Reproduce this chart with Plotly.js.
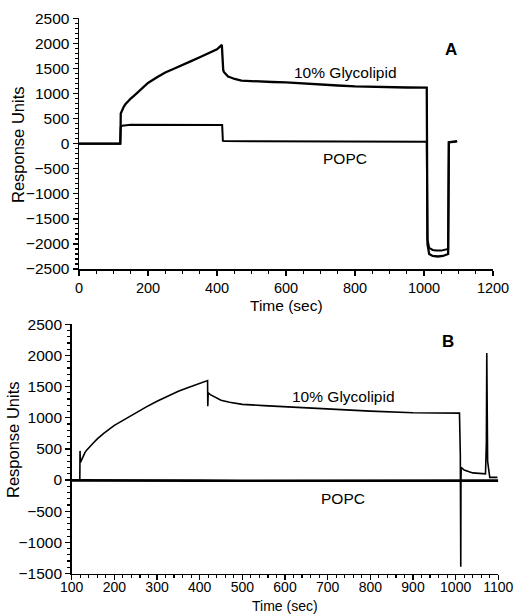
<!DOCTYPE html>
<html>
<head>
<meta charset="utf-8">
<script src="https://cdn.plot.ly/plotly-3.0.1.min.js"></script>
<style>html,body{margin:0;padding:0;background:#fff;}#chart{width:519px;height:614px;}</style>
</head>
<body>
<div id="chart"></div>
<script>
// Panel A
const tA_gly = [0, 118, 120, 121, 123, 126, 130, 135, 140, 150, 160, 175, 200, 225, 250, 275, 300, 325, 350, 375, 400, 414, 416, 418, 420, 425, 432, 440, 451, 471, 500, 525, 560, 600, 650, 700, 750, 800, 850, 900, 950, 1008, 1010, 1015, 1025, 1040, 1055, 1070, 1072, 1090, 1096];
const vA_gly = [0, 0, 0, 600, 640, 690, 740, 790, 830, 900, 960, 1060, 1210, 1320, 1420, 1495, 1565, 1645, 1722, 1800, 1880, 1970, 1600, 1470, 1430, 1390, 1340, 1320, 1290, 1256, 1245, 1236, 1230, 1224, 1200, 1177, 1160, 1144, 1132, 1124, 1120, 1117, -2000, -2200, -2240, -2250, -2240, -2200, 28, 40, 50];
const tA_popc = [0, 119, 121, 125, 150, 200, 300, 400, 415, 417, 420, 500, 700, 900, 1008, 1010, 1015, 1025, 1035, 1050, 1065, 1070, 1072, 1090, 1096];
const vA_popc = [0, 0, 330, 359, 379, 380, 378, 372, 370, 60, 54, 48, 42, 40, 40, -1900, -2080, -2120, -2133, -2133, -2110, -2100, 28, 40, 50];
// Panel B
const tB_gly = [100, 118, 119, 119.5, 120.5, 123, 127, 131, 135, 140, 150, 160, 175, 200, 225, 250, 275, 300, 325, 350, 375, 400, 417, 418.5, 419, 420, 425, 435, 450, 470, 500, 550, 600, 650, 709, 800, 900, 1009, 1011, 1012, 1012.5, 1013, 1020, 1040, 1065, 1070, 1072, 1073, 1075, 1080, 1098];
const vB_gly = [0, 0, 0, 468, 282, 320, 390, 440, 480, 520, 590, 660, 750, 878, 980, 1080, 1175, 1266, 1350, 1425, 1490, 1548, 1590, 1596, 1186, 1400, 1370, 1330, 1280, 1250, 1215, 1195, 1176, 1160, 1144, 1106, 1080, 1074, 400, -1393, 0, 203, 160, 115, 96, 100, 600, 2038, 300, 43, 43];
const tB_popc = [100, 200, 300, 400, 500, 600, 700, 800, 900, 1000, 1100];
const vB_popc = [-5, -10, -12, -10, -12, -10, -10, -12, -10, -10, -10];

const yTitle = 'Response Units';
const xTitle = 'Time (sec)';

const FONT = 'Liberation Sans, Arial, Helvetica, sans-serif';
const W = 519, H = 614;
function px(x){return x/W;}
function py(y){return 1 - y/H;}

const lineStyle = (w) => ({color: '#000', width: w});

const traces = [
  {x: tA_gly, y: vA_gly, mode: 'lines', line: lineStyle(2.3), xaxis: 'x', yaxis: 'y', name: '10% Glycolipid (A)'},
  {x: tA_popc, y: vA_popc, mode: 'lines', line: lineStyle(2), xaxis: 'x', yaxis: 'y', name: 'POPC (A)'},
  {x: tB_gly, y: vB_gly, mode: 'lines', line: lineStyle(1.6), xaxis: 'x2', yaxis: 'y2', name: '10% Glycolipid (B)'},
  {x: tB_popc, y: vB_popc, mode: 'lines', line: lineStyle(2.6), xaxis: 'x2', yaxis: 'y2', name: 'POPC (B)'}
];

const xTickFont = {family: FONT, size: 14.5, color: '#000'};
const yTickFont = {family: FONT, size: 15.5, color: '#000'};

const axBase = {
  showline: true, linecolor: '#000', linewidth: 1.5,
  ticks: 'outside', ticklen: 5, tickwidth: 1.3, tickcolor: '#000',
  showgrid: false, zeroline: false, automargin: false,
  fixedrange: true
};
const minorY = {dtick: 100, ticks: 'outside', ticklen: 3, tickwidth: 1.2, tickcolor: '#000', showgrid: false};

const layout = {
  width: W, height: H,
  margin: {l: 0, r: 0, t: 0, b: 0},
  paper_bgcolor: '#fff', plot_bgcolor: '#fff',
  showlegend: false,
  font: {family: FONT, size: 14, color: '#000'},
  xaxis: Object.assign({}, axBase, {
    domain: [px(79), px(493)], range: [0, 1200], tickvals: [0, 200, 400, 600, 800, 1000, 1200],
    anchor: 'y', tickfont: xTickFont,
    minor: {dtick: 50, ticks: 'outside', ticklen: 3, tickwidth: 1.2, tickcolor: '#000', showgrid: false}
  }),
  yaxis: Object.assign({}, axBase, {
    domain: [py(269), py(18.3)], range: [-2500, 2500], dtick: 500, tick0: 0,
    anchor: 'x', tickfont: yTickFont, minor: minorY
  }),
  xaxis2: Object.assign({}, axBase, {
    domain: [px(71.7), px(498.3)], range: [100, 1100], dtick: 100, tick0: 0,
    anchor: 'y2', tickfont: {family: FONT, size: 14, color: '#000'}, ticklabelstandoff: -5,
    minor: {dtick: 20, ticks: 'outside', ticklen: 3, tickwidth: 1.2, tickcolor: '#000', showgrid: false}
  }),
  yaxis2: Object.assign({}, axBase, {
    domain: [py(573.5), py(324.3)], range: [-1500, 2500], dtick: 500, tick0: 0,
    anchor: 'x2', tickfont: yTickFont, minor: minorY
  }),
  annotations: [
    {text: yTitle, xref: 'paper', yref: 'paper', x: px(18), y: py(145), textangle: -90, showarrow: false, font: {family: FONT, size: 16.5}, xanchor: 'center', yanchor: 'middle'},
    {text: yTitle, xref: 'paper', yref: 'paper', x: px(13), y: py(440), textangle: -90, showarrow: false, font: {family: FONT, size: 16.5}, xanchor: 'center', yanchor: 'middle'},
    {text: xTitle, xref: 'paper', yref: 'paper', x: px(286), y: py(305), showarrow: false, font: {family: FONT, size: 15.5}, xanchor: 'center', yanchor: 'middle'},
    {text: xTitle, xref: 'paper', yref: 'paper', x: px(285), y: py(606), showarrow: false, font: {family: FONT, size: 14}, xanchor: 'center', yanchor: 'middle'},
    {text: '10% Glycolipid', xref: 'x', yref: 'y', x: 771, y: 1410, showarrow: false, font: {family: FONT, size: 15.5}},
    {text: 'POPC', xref: 'x', yref: 'y', x: 771, y: -305, showarrow: false, font: {family: FONT, size: 15.5}},
    {text: '<b>A</b>', xref: 'x', yref: 'y', x: 1078, y: 1868, showarrow: false, font: {family: FONT, size: 17}},
    {text: '10% Glycolipid', xref: 'x2', yref: 'y2', x: 736, y: 1340, showarrow: false, font: {family: FONT, size: 15.5}},
    {text: 'POPC', xref: 'x2', yref: 'y2', x: 736, y: -303, showarrow: false, font: {family: FONT, size: 15.5}},
    {text: '<b>B</b>', xref: 'x2', yref: 'y2', x: 982, y: 2218, showarrow: false, font: {family: FONT, size: 17}}
  ]
};

Plotly.newPlot('chart', traces, layout, {displayModeBar: false, staticPlot: true});
</script>
</body>
</html>
